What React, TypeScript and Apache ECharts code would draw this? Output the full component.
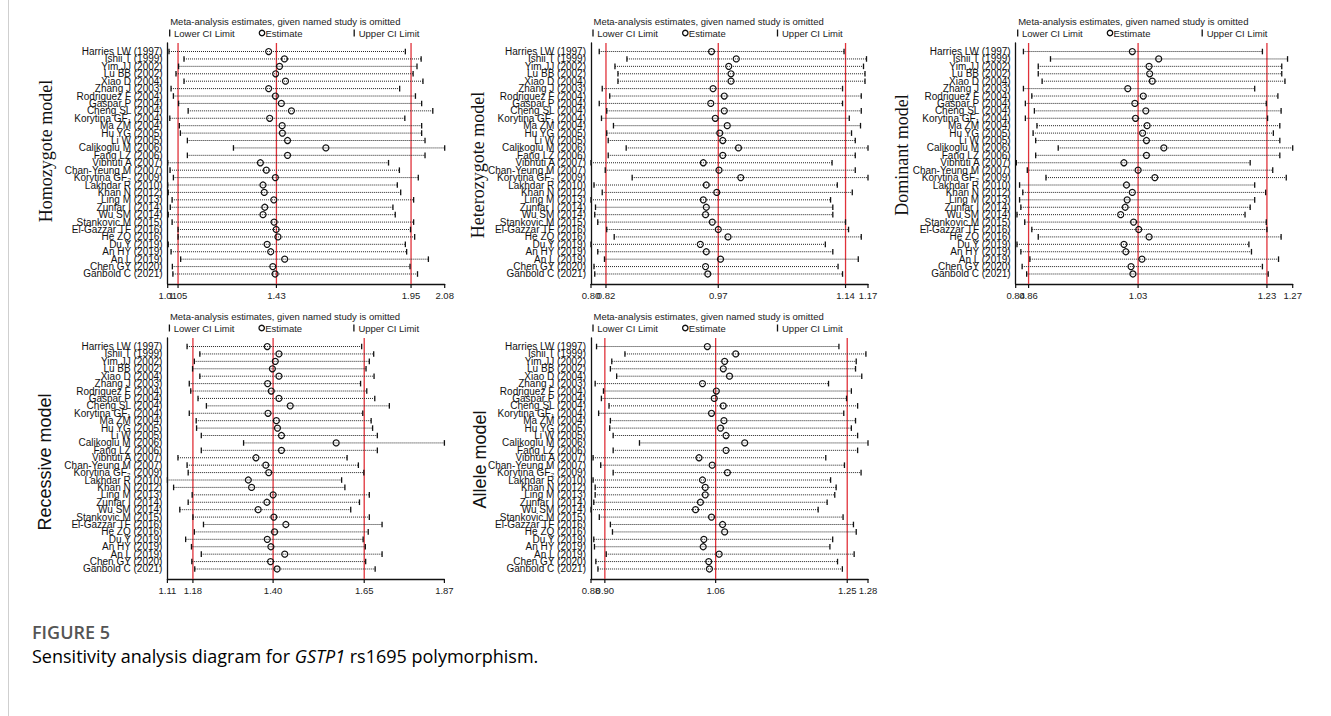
import React, { useEffect, useRef } from 'react';
import * as echarts from 'echarts';

const studies = [
  'Harries LW (1997)', 'Ishii T (1999)', 'Yim JJ (2002)', 'Lu BB (2002)', 'Xiao D (2004)',
  'Zhang J (2003)', 'Rodriguez F (2004)', 'Gaspar P (2004)', 'Cheng SL (2004)', 'Korytina GF\u2081 (2004)',
  'Ma ZM (2004)', 'Hu YG (2005)', 'Li W (2005)', 'Calikoglu M (2006)', 'Fang LZ (2006)',
  'Vibhuti A (2007)', 'Chan-Yeung M (2007)', 'Korytina GF\u2082 (2009)', 'Lakhdar R (2010)', 'Khan N (2012)',
  'Ling M (2013)', 'Zunfar I (2014)', 'Wu SM (2014)', 'Stankovic M (2015)', 'El-Gazzar TF (2016)',
  'He ZQ (2016)', 'Du Y (2019)', 'An HY (2019)', 'An L (2019)', 'Chen GY (2020)', 'Ganbold C (2021)',
];

// Homozygote model
const homLower = [1.015, 1.073, 1.052, 1.042, 1.073, 1.023, 1.032, 1.052, 1.089, 1.018, 1.055, 1.059, 1.086, 1.264, 1.086, 1.010, 1.019, 1.032, 1.010, 1.012, 1.027, 1.020, 1.012, 1.027, 1.050, 1.050, 1.012, 1.023, 1.060, 1.028, 1.030];
const homEst = [1.400, 1.461, 1.442, 1.427, 1.465, 1.400, 1.426, 1.449, 1.488, 1.404, 1.452, 1.453, 1.473, 1.621, 1.473, 1.368, 1.391, 1.426, 1.378, 1.383, 1.420, 1.385, 1.378, 1.421, 1.429, 1.436, 1.394, 1.408, 1.462, 1.416, 1.425];
const homUpper = [1.928, 1.989, 1.973, 1.958, 1.996, 1.906, 1.967, 1.991, 2.034, 1.926, 1.991, 1.991, 2.004, 2.080, 2.004, 1.863, 1.905, 1.978, 1.897, 1.910, 1.960, 1.880, 1.889, 1.960, 1.948, 1.964, 1.928, 1.933, 2.017, 1.946, 1.975];
const homOverall = [1.05, 1.43, 1.95];
const homTicks = [1.01, 1.05, 1.43, 1.95, 2.08];

// Heterozygote model
const hetLower = [0.811, 0.848, 0.832, 0.836, 0.836, 0.815, 0.825, 0.811, 0.821, 0.814, 0.830, 0.821, 0.823, 0.847, 0.823, 0.800, 0.819, 0.855, 0.804, 0.815, 0.800, 0.806, 0.805, 0.809, 0.821, 0.831, 0.800, 0.809, 0.818, 0.804, 0.805];
const hetEst = [0.961, 0.994, 0.984, 0.987, 0.987, 0.963, 0.978, 0.960, 0.978, 0.966, 0.982, 0.972, 0.976, 0.997, 0.976, 0.950, 0.971, 1.000, 0.954, 0.968, 0.950, 0.954, 0.953, 0.962, 0.970, 0.983, 0.946, 0.954, 0.973, 0.953, 0.956];
const hetUpper = [1.138, 1.168, 1.164, 1.166, 1.166, 1.136, 1.161, 1.136, 1.161, 1.145, 1.160, 1.148, 1.153, 1.170, 1.153, 1.122, 1.153, 1.170, 1.129, 1.149, 1.120, 1.123, 1.123, 1.140, 1.144, 1.161, 1.113, 1.123, 1.157, 1.130, 1.136];
const hetOverall = [0.82, 0.97, 1.14];
const hetTicks = [0.80, 0.82, 0.97, 1.14, 1.17];

// Dominant model
const domLower = [0.852, 0.894, 0.875, 0.875, 0.881, 0.852, 0.865, 0.855, 0.869, 0.855, 0.873, 0.867, 0.871, 0.906, 0.871, 0.841, 0.858, 0.887, 0.846, 0.851, 0.846, 0.848, 0.842, 0.854, 0.865, 0.875, 0.842, 0.848, 0.862, 0.850, 0.857];
const domEst = [1.021, 1.062, 1.047, 1.048, 1.052, 1.014, 1.038, 1.025, 1.042, 1.026, 1.044, 1.037, 1.043, 1.070, 1.043, 1.008, 1.030, 1.056, 1.012, 1.021, 1.013, 1.010, 1.003, 1.023, 1.031, 1.047, 1.008, 1.011, 1.036, 1.019, 1.022];
const domUpper = [1.223, 1.262, 1.253, 1.253, 1.258, 1.211, 1.247, 1.229, 1.252, 1.231, 1.250, 1.240, 1.250, 1.270, 1.250, 1.204, 1.239, 1.260, 1.211, 1.228, 1.211, 1.204, 1.196, 1.229, 1.230, 1.252, 1.202, 1.206, 1.248, 1.223, 1.232];
const domOverall = [0.86, 1.03, 1.23];
const domTicks = [0.84, 0.86, 1.03, 1.23, 1.27];

// Recessive model
const recLower = [1.164, 1.199, 1.184, 1.179, 1.199, 1.170, 1.174, 1.194, 1.217, 1.170, 1.189, 1.190, 1.203, 1.319, 1.203, 1.139, 1.164, 1.167, 1.110, 1.127, 1.178, 1.167, 1.144, 1.180, 1.209, 1.184, 1.160, 1.176, 1.203, 1.177, 1.185];
const recEst = [1.384, 1.416, 1.406, 1.398, 1.416, 1.385, 1.395, 1.416, 1.447, 1.386, 1.409, 1.412, 1.423, 1.573, 1.423, 1.353, 1.380, 1.388, 1.332, 1.341, 1.400, 1.383, 1.359, 1.402, 1.435, 1.404, 1.384, 1.394, 1.432, 1.393, 1.411];
const recUpper = [1.643, 1.676, 1.664, 1.655, 1.677, 1.640, 1.657, 1.679, 1.719, 1.646, 1.669, 1.673, 1.686, 1.870, 1.686, 1.603, 1.634, 1.649, 1.588, 1.597, 1.664, 1.637, 1.613, 1.664, 1.699, 1.661, 1.647, 1.653, 1.699, 1.654, 1.680];
const recOverall = [1.18, 1.40, 1.65];
const recTicks = [1.11, 1.18, 1.40, 1.65, 1.87];

// Allele model
const allLower = [0.888, 0.929, 0.910, 0.908, 0.917, 0.886, 0.898, 0.895, 0.906, 0.891, 0.908, 0.907, 0.912, 0.950, 0.912, 0.883, 0.894, 0.912, 0.883, 0.886, 0.886, 0.884, 0.880, 0.892, 0.908, 0.911, 0.884, 0.885, 0.902, 0.887, 0.890];
const allEst = [1.048, 1.089, 1.073, 1.071, 1.080, 1.041, 1.061, 1.058, 1.071, 1.054, 1.072, 1.067, 1.075, 1.102, 1.075, 1.036, 1.055, 1.077, 1.041, 1.045, 1.045, 1.038, 1.031, 1.054, 1.070, 1.073, 1.043, 1.042, 1.065, 1.050, 1.051];
const allUpper = [1.238, 1.277, 1.263, 1.262, 1.271, 1.223, 1.256, 1.249, 1.265, 1.245, 1.262, 1.256, 1.265, 1.280, 1.265, 1.219, 1.246, 1.270, 1.226, 1.234, 1.232, 1.221, 1.208, 1.244, 1.259, 1.263, 1.229, 1.225, 1.260, 1.236, 1.243];
const allOverall = [0.90, 1.06, 1.25];
const allTicks = [0.88, 0.90, 1.06, 1.25, 1.28];

const SANS = '"Liberation Sans", Arial, sans-serif';
const SERIF = '"Liberation Serif", "Times New Roman", serif';
const CAPTION = '"Open Sans", "Noto Sans", sans-serif';

export default function App() {
  const ref = useRef<HTMLDivElement>(null);
  useEffect(() => {
    if (!ref.current) return;
    const chart = echarts.init(ref.current, null, { renderer: 'svg' });

    const panels = [
      { model: 'Homozygote model', font: SERIF, left: 167.7, top: 43, nameX: 46, nameY: 151, lower: homLower, est: homEst, upper: homUpper, overall: homOverall, ticks: homTicks },
      { model: 'Heterozygote model', font: SERIF, left: 591, top: 43, nameX: 478, nameY: 165, lower: hetLower, est: hetEst, upper: hetUpper, overall: hetOverall, ticks: hetTicks },
      { model: 'Dominant model', font: SERIF, left: 1015.7, top: 43, nameX: 902, nameY: 155, lower: domLower, est: domEst, upper: domUpper, overall: domOverall, ticks: domTicks },
      { model: 'Recessive model', font: SANS, left: 167.4, top: 338, nameX: 45, nameY: 462, lower: recLower, est: recEst, upper: recUpper, overall: recOverall, ticks: recTicks },
      { model: 'Allele model', font: SANS, left: 591, top: 338, nameX: 480, nameY: 459.5, lower: allLower, est: allEst, upper: allUpper, overall: allOverall, ticks: allTicks },
    ];
    const W = 277;
    const H = 241;
    const idx = studies.map((_, i) => i);

    const grid: any[] = [];
    const xAxis: any[] = [];
    const yAxis: any[] = [];
    const series: any[] = [];
    const graphic: any[] = [];

    // figure frame line (left)
    graphic.push({ type: 'line', shape: { x1: 8.5, y1: 0, x2: 8.5, y2: 716 }, style: { stroke: '#cfcfcf', lineWidth: 1 }, silent: true });

    panels.forEach((p, k) => {
      const xmin = p.ticks[0];
      grid.push({ left: p.left, top: p.top, width: W, height: H, containLabel: false, outerBoundsMode: 'none' });
      xAxis.push({
        type: 'value', gridIndex: k,
        min: xmin, max: p.ticks[p.ticks.length - 1],
        axisLine: { show: true, onZero: false, lineStyle: { color: '#111', width: 1.3 } },
        axisTick: { show: false },
        axisLabel: { show: false },
        splitLine: { show: false },
      });
      yAxis.push({
        type: 'value', gridIndex: k, inverse: true, min: -1.15, max: 31.35,
        axisLine: { show: true, onZero: false, lineStyle: { color: '#111', width: 1.3 } },
        axisTick: { show: false },
        axisLabel: { show: false },
        splitLine: { show: false },
      });
      // overall red lines
      series.push({
        type: 'custom', xAxisIndex: k, yAxisIndex: k, silent: true, z: 2,
        data: p.overall.map((v) => [v, 0]),
        renderItem: (params: any, api: any) => {
          const cs = params.coordSys;
          const x = api.coord([api.value(0), 0])[0];
          return { type: 'line', shape: { x1: x, y1: cs.y, x2: x, y2: cs.y + cs.height }, style: { stroke: '#e0323a', lineWidth: 1.3 } };
        },
      });
      // x ticks and tick labels
      series.push({
        type: 'custom', xAxisIndex: k, yAxisIndex: k, silent: true, z: 4, clip: false,
        data: p.ticks.map((v) => [v, 0]),
        renderItem: (params: any, api: any) => {
          const cs = params.coordSys;
          const v = api.value(0) as number;
          const x = api.coord([v, 0])[0];
          const yb = cs.y + cs.height;
          return {
            type: 'group',
            children: [
              { type: 'line', shape: { x1: x, y1: yb, x2: x, y2: yb + 4 }, style: { stroke: '#111', lineWidth: 1.2 } },
              { type: 'text', x, y: yb + 6, style: { text: v.toFixed(2), font: `9.5px ${SANS}`, fill: '#222', textAlign: 'center', textVerticalAlign: 'top' } },
            ],
          };
        },
      });
      // study labels
      series.push({
        type: 'custom', xAxisIndex: k, yAxisIndex: k, silent: true, z: 4, clip: false,
        data: idx.map((i) => [xmin, i]),
        renderItem: (params: any, api: any) => {
          const cs = params.coordSys;
          const i = Math.round(api.value(1) as number);
          const y = api.coord([xmin, i])[1];
          return { type: 'text', x: cs.x - 5, y, style: { text: studies[i], font: `10px ${SANS}`, fill: '#111', textAlign: 'right', textVerticalAlign: 'middle' } };
        },
      });
      // CI per study
      series.push({
        type: 'custom', xAxisIndex: k, yAxisIndex: k, silent: true, z: 3,
        data: idx.map((i) => [i, p.lower[i], p.est[i], p.upper[i]]),
        encode: { x: [1, 2, 3], y: 0 },
        renderItem: (_params: any, api: any) => {
          const r = api.value(0);
          const lo = api.coord([api.value(1), r]);
          const es = api.coord([api.value(2), r]);
          const hi = api.coord([api.value(3), r]);
          const h = 2.8;
          return {
            type: 'group',
            children: [
              { type: 'line', shape: { x1: lo[0], y1: lo[1], x2: hi[0], y2: hi[1] }, style: { stroke: '#222', lineWidth: 1, lineDash: [1, 1] } },
              { type: 'line', shape: { x1: lo[0], y1: lo[1] - h, x2: lo[0], y2: lo[1] + h }, style: { stroke: '#111', lineWidth: 1.3 } },
              { type: 'line', shape: { x1: hi[0], y1: hi[1] - h, x2: hi[0], y2: hi[1] + h }, style: { stroke: '#111', lineWidth: 1.3 } },
              { type: 'circle', shape: { cx: es[0], cy: es[1], r: 3 }, style: { fill: 'none', stroke: '#111', lineWidth: 1.2 } },
            ],
          };
        },
      });

      // panel title and legend
      const tY = p.top - 22;
      const lY = p.top - 10;
      const tx = p.left;
      graphic.push({ type: 'text', x: tx + 2.5, y: tY, style: { text: 'Meta-analysis estimates, given named study is omitted', font: `9.5px ${SANS}`, fill: '#222', textAlign: 'left', textVerticalAlign: 'middle' }, silent: true });
      graphic.push({ type: 'line', shape: { x1: tx + 2, y1: lY - 3.5, x2: tx + 2, y2: lY + 3.5 }, style: { stroke: '#111', lineWidth: 1.3 }, silent: true });
      graphic.push({ type: 'text', x: tx + 6.3, y: lY, style: { text: 'Lower CI Limit', font: `9.5px ${SANS}`, fill: '#222', textAlign: 'left', textVerticalAlign: 'middle' }, silent: true });
      graphic.push({ type: 'circle', shape: { cx: tx + 94.3, cy: lY, r: 2.7 }, style: { fill: 'none', stroke: '#111', lineWidth: 1.3 }, silent: true });
      graphic.push({ type: 'text', x: tx + 97.8, y: lY, style: { text: 'Estimate', font: `9.5px ${SANS}`, fill: '#222', textAlign: 'left', textVerticalAlign: 'middle' }, silent: true });
      graphic.push({ type: 'line', shape: { x1: tx + 186.5, y1: lY - 3.5, x2: tx + 186.5, y2: lY + 3.5 }, style: { stroke: '#111', lineWidth: 1.3 }, silent: true });
      graphic.push({ type: 'text', x: tx + 191, y: lY, style: { text: 'Upper CI Limit', font: `9.5px ${SANS}`, fill: '#222', textAlign: 'left', textVerticalAlign: 'middle' }, silent: true });
      // model name
      graphic.push({ type: 'text', x: p.nameX, y: p.nameY, rotation: Math.PI / 2, style: { text: p.model, font: `18px ${p.font}`, fill: '#111', textAlign: 'center', textVerticalAlign: 'middle' }, silent: true });
    });

    graphic.push({ type: 'text', x: 32, y: 632, style: { text: 'FIGURE 5', font: `600 18px ${CAPTION}`, fill: '#555', textAlign: 'left', textVerticalAlign: 'middle' }, silent: true });
    graphic.push({
      type: 'text', x: 32, y: 656,
      style: {
        text: '{n|Sensitivity analysis diagram for }{i|GSTP1}{n| rs1695 polymorphism.}',
        rich: {
          n: { fontFamily: CAPTION, fontSize: 18, color: '#555' },
          i: { fontFamily: CAPTION, fontSize: 18, color: '#555', fontStyle: 'italic' },
        },
        textAlign: 'left', textVerticalAlign: 'middle',
      },
      silent: true,
    });

    chart.setOption({
      animation: false,
      backgroundColor: '#fff',
      textStyle: { fontFamily: SANS },
      grid, xAxis, yAxis, series, graphic,
    });
    return () => chart.dispose();
  }, []);
  return <div ref={ref} style={{ position: 'fixed', left: 0, top: 0, width: 1331, height: 716, background: '#fff' }} />;
}
